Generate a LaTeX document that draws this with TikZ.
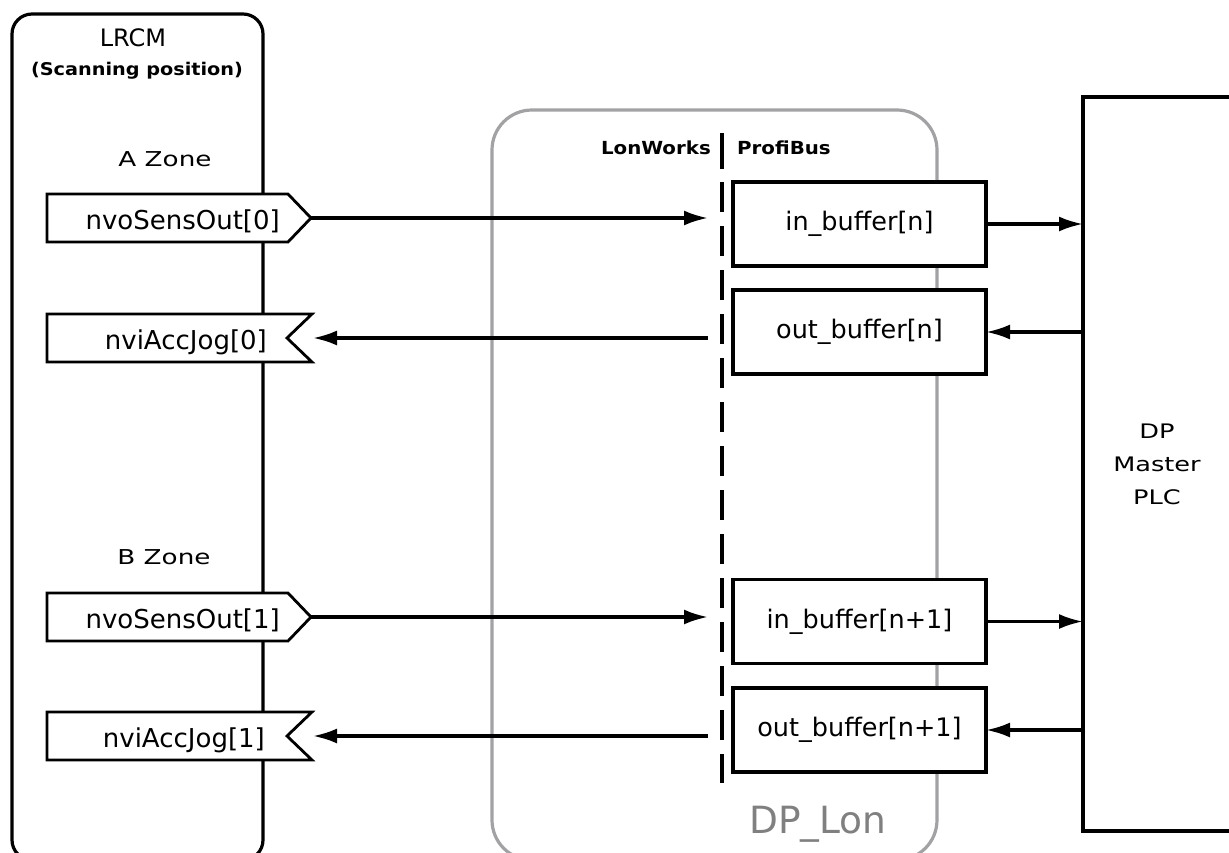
\documentclass[tikz,border=0pt]{standalone}
\usepackage{fontspec}
\setmainfont{DejaVu Sans}
\newfontfamily\widefont[FakeStretch=1.28]{DejaVu Sans}
\newfontfamily\medfont[FakeStretch=1.1]{DejaVu Sans}
\usetikzlibrary{arrows.meta}
\definecolor{boxgray}{HTML}{A2A2A4}
\definecolor{txtgray}{HTML}{808080}
\begin{document}
\begin{tikzpicture}[x=1pt,y=-1pt,
  ln/.style={line width=3.2pt},
  container/.style={draw, line width=3.2pt, inner sep=0pt, outer sep=0pt},
  buf/.style={draw, line width=3.2pt, fill=white, minimum width=253pt, minimum height=84pt, inner sep=0pt, outer sep=0pt, font=\fontsize{25.5}{30}\selectfont},
  sig/.style={line width=2.8pt, fill=white, line join=miter},
  sigtxt/.style={inner sep=0pt, anchor=base east, font=\fontsize{26}{30}\selectfont},
  arr/.style={line width=3.2pt, -{Latex[length=24pt,width=15pt]}},
  zone/.style={inner sep=0pt, font=\widefont\fontsize{20.5}{24}\selectfont},
  hdr/.style={inner sep=0pt, font=\medfont\bfseries\fontsize{18}{22}\selectfont},
]
\useasboundingbox (0,0) rectangle (1229,852);
\clip (0,0) rectangle (1229,852);

% containers
\node[container, draw=boxgray, rounded corners=40pt, minimum width=445pt, minimum height=750pt] (dplon) at (714.5,485) {};
\node[container, rounded corners=20pt, minimum width=251pt, minimum height=846pt] (lrcm) at (137.5,437) {};
\node[container, minimum width=177pt, minimum height=734pt] (plc) at (1171.5,464) {};

% LRCM labels
\node[inner sep=0pt, font=\fontsize{24}{28}\selectfont] (lrcmT) at (133,38) {LRCM};
\node[inner sep=0pt, font=\medfont\bfseries\fontsize{17.5}{20}\selectfont] (scan) at (137,71) {(Scanning position)};
\node[zone] (zA) at (165,159) {A Zone};
\node[zone] (zB) at (164,557) {B Zone};

% PLC label
\node[inner sep=0pt, align=center, font=\widefont\fontsize{20}{33}\selectfont] (plcT) at (1157,464) {DP\\Master\\PLC};

% DP_Lon label
\node[inner sep=0pt, anchor=base, text=txtgray, font=\fontsize{37.5}{40}\selectfont] (dplonT) at (818,833) {DP\_Lon};

% divider
\coordinate (dvT) at (722,133);
\coordinate (dvM) at (722,169);
\coordinate (dvD) at (722,182);
\coordinate (dvB) at (722,783);
\draw[ln] (dvT) -- (dvM);
\draw[ln, dash pattern=on 30pt off 14pt] (dvD) -- (dvB);
\node[hdr, anchor=east] (lw) at (711,148) {LonWorks};
\node[hdr, anchor=west] (pb) at (737,148) {ProfiBus};
\coordinate (lwin) at (708,0);

% signal shapes
\draw[sig] (47,194) -- (288,194) -- (311,218) -- (288,242) -- (47,242) -- cycle;
\coordinate (so0) at (311,218);
\node[sigtxt] (so0T) at (280,229) {nvoSensOut[0]};

\draw[sig] (47,314) -- (312,314) -- (287,338) -- (312,362) -- (47,362) -- cycle;
\coordinate (ai0) at (313,338);
\node[sigtxt] (ai0T) at (267,349) {nviAccJog[0]};

\draw[sig] (47,593) -- (288,593) -- (311,617) -- (288,641) -- (47,641) -- cycle;
\coordinate (so1) at (311,617);
\node[sigtxt] (so1T) at (280,628) {nvoSensOut[1]};

\draw[sig] (47,712) -- (312,712) -- (287,736) -- (312,760) -- (47,760) -- cycle;
\coordinate (ai1) at (313,736);
\node[sigtxt] (ai1T) at (265,747) {nviAccJog[1]};

% buffers
\node[buf] (ib0) at (859.5,224) {in\_buffer[n]};
\node[buf] (ob0) at (859.5,332) {out\_buffer[n]};
\node[buf] (ib1) at (859.5,621.5) {in\_buffer[n+1]};
\node[buf] (ob1) at (859.5,730) {out\_buffer[n+1]};

% LonWorks side arrows
\draw[arr] (so0) -- (so0 -| lwin);
\draw[arr] (ai0 -| lwin) -- (ai0);
\draw[arr] (so1) -- (so1 -| lwin);
\draw[arr] (ai1 -| lwin) -- (ai1);

% ProfiBus side arrows
\draw[arr] (ib0.east) -- (ib0.east -| plc.west);
\draw[arr] (ob0.east -| plc.west) -- (ob0.east);
\draw[arr] (ib1.east) -- (ib1.east -| plc.west);
\draw[arr] (ob1.east -| plc.west) -- (ob1.east);
\end{tikzpicture}
\end{document}
